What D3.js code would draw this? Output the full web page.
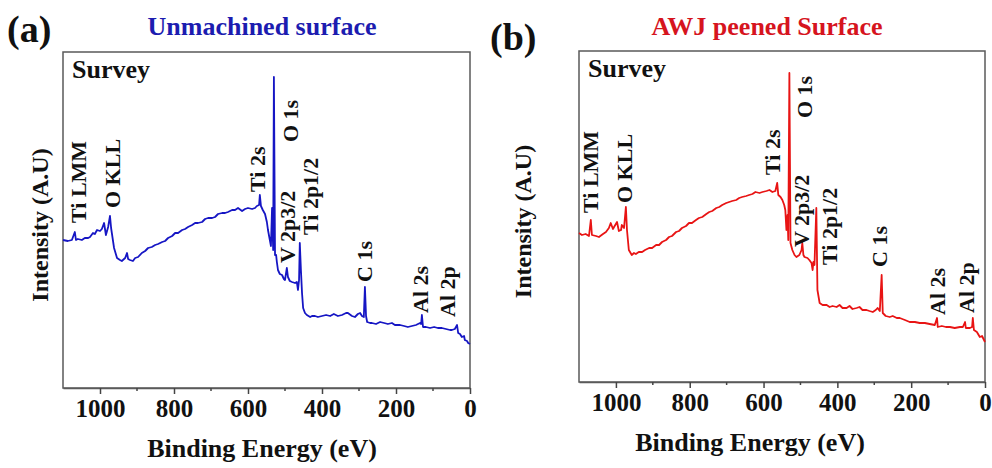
<!DOCTYPE html>
<html>
<head>
<meta charset="utf-8">
<script src="https://cdn.jsdelivr.net/npm/d3@7"></script>
<style>
  body { margin: 0; background: #fff; }
  text { font-family: "Liberation Serif", "Times New Roman", serif; font-weight: bold; }
</style>
</head>
<body>
<script>
// binding energy (eV) and intensity (a.u.)
const beA = [1100,1087,1076,1068,1065,1060,1049,1041,1032,1027,1019,1014,1008,1000,995,989,984,978,973,970,968,962,954,946,941,932,927,924,919,911,905,897,887,878,870,860,851,843,832,824,816,805,797,789,778,770,762,751,743,735,724,716,708,697,689,681,670,662,654,643,635,627,616,608,600,589,581,576,570,568,565,560,554,549,546,541,538,535,532,530,527,524,522,519,514,508,503,500,495,492,487,481,473,468,465,462,460,457,454,451,446,441,432,427,419,411,400,389,378,368,357,346,335,330,319,311,303,297,292,287,284,281,278,270,265,254,243,232,222,211,203,189,178,168,157,146,135,132,130,127,119,108,97,87,76,65,54,49,41,35,32,27,22,16,14,8,5,0];
const intA = [148,147,148,156,148,149,148,150,150,151,155,154,158,157,159,165,153,161,172,160,155,140,130,128,127,130,135,129,128,127,130,131,135,137,140,141,143,144,146,147,150,152,155,155,158,159,161,163,165,165,166,169,170,170,171,174,175,175,176,178,178,180,177,179,180,179,180,182,183,193,182,178,174,166,158,148,142,180,138,311,133,133,126,118,114,113,109,108,120,111,107,106,105,106,98,108,145,118,95,80,75,73,71,72,72,71,72,73,72,74,72,73,75,75,72,71,74,75,72,71,101,72,66,65,65,64,66,65,64,65,63,63,62,61,62,63,65,64,73,61,61,60,61,60,60,59,58,58,59,63,55,54,51,52,48,47,45,44];

const beB = [1100,1092,1082,1073,1068,1065,1054,1046,1035,1027,1019,1014,1008,1005,997,992,986,984,978,973,970,965,957,951,946,938,929,921,910,902,891,883,875,864,856,848,837,829,821,810,802,794,783,775,766,755,747,739,728,720,712,701,693,685,674,666,658,647,639,630,622,611,603,592,584,576,568,563,560,554,549,544,541,538,535,533,530,527,522,516,511,503,497,495,492,489,481,476,470,467,465,462,457,454,448,440,429,421,413,402,394,386,375,367,359,348,340,332,321,313,304,296,291,285,280,277,269,258,250,239,231,217,204,190,177,163,150,136,130,128,117,106,95,82,68,60,54,52,41,35,33,30,22,14,8,0];
const intB = [149,147,148,146,162,147,146,145,148,150,154,159,153,155,160,151,152,157,154,175,152,132,127,129,128,130,130,132,134,134,137,137,140,142,145,146,150,151,154,156,159,159,162,164,165,168,170,171,174,175,177,179,180,181,182,184,185,186,187,188,190,189,190,191,192,190,191,199,187,185,182,177,172,152,167,142,309,139,132,127,125,127,132,139,127,125,124,122,119,112,120,117,174,92,79,77,77,75,76,75,77,74,74,76,73,74,75,72,72,71,70,72,74,71,107,69,66,65,66,64,64,62,60,60,59,59,58,57,64,55,56,55,55,54,55,55,60,54,54,55,64,52,50,45,46,40];

// peak labels: text, energy under the label, level of the label's lower end
const peakNames = ["Ti LMM", "O KLL", "Ti 2s", "O 1s", "V 2p3/2", "Ti 2p1/2", "C 1s", "Al 2s", "Al 2p"];
const peakBeA = [1059, 965, 573, 486, 492, 432, 284, 135, 62];
const peakLvA = [165, 180, 196, 246, 125, 153, 106, 75, 71];
const peakBeB = [1068, 978, 576, 489, 497, 421, 285, 130, 49];
const peakLvB = [169, 179, 207, 264, 135, 117, 115, 67, 69];

const majorTicks = [1000, 800, 600, 400, 200, 0];
const minorTicks = [900, 700, 500, 300, 100];

const svg = d3.select("body").append("svg")
  .attr("width", 992)
  .attr("height", 468);

const panels = [
  { tag: "(a)", tagX: 7, tagY: 42, title: "Unmachined surface", titleColor: "#1c1cb0", titleX: 262,
    color: "#1616c4", be: beA, val: intA, pBe: peakBeA, pLv: peakLvA, xLabX: 262,
    left: 63, right: 470, top: 52, bottom: 388, ymax: 336, yLabX: 40 },
  { tag: "(b)", tagX: 490, tagY: 50, title: "AWJ peened Surface", titleColor: "#d6141e", titleX: 767,
    color: "#e81414", be: beB, val: intB, pBe: peakBeB, pLv: peakLvB, xLabX: 750,
    left: 579, right: 985, top: 51, bottom: 382, ymax: 331, yLabX: 523 }
];

panels.forEach(p => {
  const x = d3.scaleLinear().domain([1100, 0]).range([p.left, p.right]);
  const y = d3.scaleLinear().domain([0, p.ymax]).range([p.bottom, p.top]);
  const g = svg.append("g");

  // frame
  g.append("rect")
    .attr("x", p.left).attr("y", p.top)
    .attr("width", p.right - p.left).attr("height", p.bottom - p.top)
    .attr("fill", "none").attr("stroke", "#5a5a5a").attr("stroke-width", 1.5);

  // bottom axis: major + minor ticks
  const axis = g.append("g").attr("transform", `translate(0,${p.bottom})`)
    .call(d3.axisBottom(x).tickValues(majorTicks).tickFormat(d3.format("d"))
      .tickSize(6).tickSizeOuter(0).tickPadding(5));
  axis.select(".domain").attr("stroke", "#5a5a5a").attr("stroke-width", 1.5);
  axis.selectAll(".tick line").attr("stroke", "#444").attr("stroke-width", 1.5);
  axis.selectAll(".tick text")
    .attr("font-size", 25).attr("fill", "#111")
    .attr("font-family", "'Liberation Serif', 'Times New Roman', serif")
    .attr("font-weight", "bold");
  g.selectAll(".minor").data(minorTicks).join("line")
    .attr("x1", d => x(d)).attr("x2", d => x(d))
    .attr("y1", p.bottom).attr("y2", p.bottom + 3)
    .attr("stroke", "#444").attr("stroke-width", 1.5);

  // spectrum
  const pts = p.be.map((b, i) => ({ b: b, v: p.val[i] }));
  const lineFunction = d3.line()
    .x(d => x(d.b))
    .y(d => y(d.v))
    .curve(d3.curveLinear);
  g.append("path")
    .attr("d", lineFunction(pts))
    .attr("fill", "none")
    .attr("stroke", p.color)
    .attr("stroke-width", 1.8)
    .attr("stroke-linejoin", "round");

  // peak labels
  p.pBe.forEach((b, i) => {
    g.append("text")
      .attr("transform", `translate(${x(b)},${y(p.pLv[i])}) rotate(-90)`)
      .attr("dominant-baseline", "central")
      .attr("font-size", 22)
      .attr("fill", "#111")
      .text(peakNames[i]);
  });

  g.append("text")
    .attr("x", p.left + 9).attr("y", p.top + 26)
    .attr("font-size", 26).attr("fill", "#111")
    .text("Survey");

  // axis titles and headings
  g.append("text")
    .attr("x", p.xLabX).attr("y", p.bottom + 69)
    .attr("text-anchor", "middle").attr("font-size", 26).attr("fill", "#111")
    .text("Binding Energy (eV)");
  g.append("text")
    .attr("transform", `translate(${p.yLabX},${(p.top + p.bottom) / 2 + 5}) rotate(-90)`)
    .attr("text-anchor", "middle").attr("dominant-baseline", "central")
    .attr("font-size", 24).attr("fill", "#111")
    .text("Intensity (A.U)");
  g.append("text")
    .attr("x", p.titleX).attr("y", 35)
    .attr("text-anchor", "middle").attr("font-size", 26).attr("fill", p.titleColor)
    .text(p.title);
  g.append("text")
    .attr("x", p.tagX).attr("y", p.tagY)
    .attr("font-size", 38).attr("fill", "#111")
    .text(p.tag);
});
</script>
</body>
</html>
